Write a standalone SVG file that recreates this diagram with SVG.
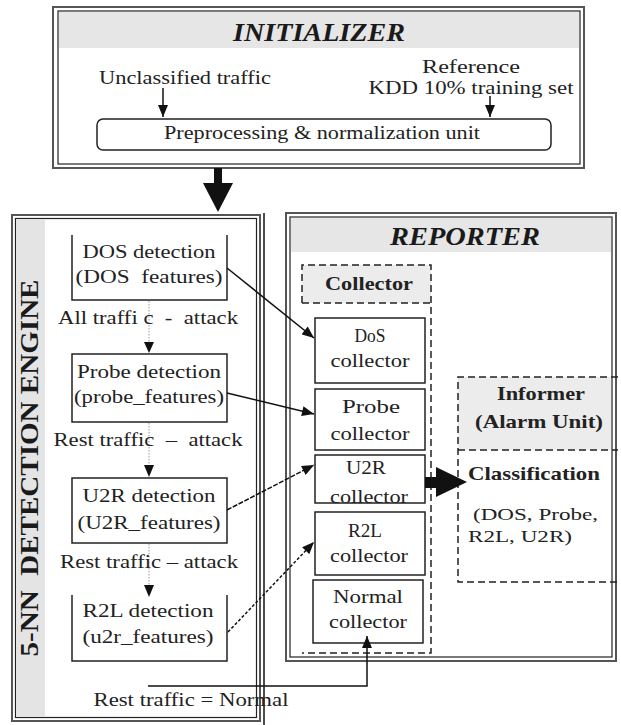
<svg xmlns="http://www.w3.org/2000/svg" width="621" height="725" viewBox="0 0 621 725">
  <style>
    .t { font-family: "Liberation Serif", "Times New Roman", serif; font-size: 19px; fill: #222; }
    .s { font-size: 17px; }
    .b { font-weight: bold; }
    .hd { font-family: "Liberation Serif", "Times New Roman", serif; font-weight: bold; font-style: italic; font-size: 25px; fill: #1a1a1a; }
    .box { fill: #fff; stroke: #222; stroke-width: 1.5; }
    .outer { fill: none; stroke: #555; stroke-width: 2; }
    .inner { fill: none; stroke: #222; stroke-width: 1.2; }
    .band { fill: #e6e6e6; }
    .dash { fill: none; stroke: #222; stroke-width: 1.5; stroke-dasharray: 7 4; }
    .line { fill: none; stroke: #111; stroke-width: 1.5; }
    .dot { fill: none; stroke: #999; stroke-width: 1; stroke-dasharray: 1.5 1.5; }
  </style>
  <defs>
    <marker id="arr" viewBox="0 0 12 10" refX="12" refY="5" markerUnits="userSpaceOnUse" markerWidth="13" markerHeight="10" orient="auto">
      <path d="M0,0 L12,5 L0,10 z" fill="#111"/>
    </marker>
  </defs>

  <rect width="621" height="725" fill="#fff"/>

  <!-- Initializer -->
  <g id="initializer">
    <rect x="53" y="7" width="531" height="161" class="outer" fill="#fff"/>
    <rect x="58" y="11" width="522" height="153" class="inner"/>
    <rect x="59" y="12" width="520" height="36" class="band"/>
    <text class="hd" x="319" y="41" text-anchor="middle" textLength="172" lengthAdjust="spacingAndGlyphs">INITIALIZER</text>
    <text class="t" x="185" y="84" text-anchor="middle" textLength="172" lengthAdjust="spacingAndGlyphs">Unclassified traffic</text>
    <text class="t" x="471" y="73" text-anchor="middle" textLength="98" lengthAdjust="spacingAndGlyphs">Reference</text>
    <text class="t" x="471" y="94" text-anchor="middle" textLength="205" lengthAdjust="spacingAndGlyphs">KDD 10% training set</text>
  </g>

  <g id="preprocessing">
    <rect x="97" y="119" width="454" height="31" rx="6" class="box"/>
    <text class="t" x="322" y="139" text-anchor="middle" textLength="316" lengthAdjust="spacingAndGlyphs">Preprocessing &amp; normalization unit</text>
  </g>

  <!-- Detection engine -->
  <g id="detection-engine">
    <rect x="12" y="215" width="248" height="506" class="outer" fill="#fff"/>
    <rect x="15.5" y="218.5" width="241" height="499" class="inner"/>
    <rect x="16" y="219" width="29" height="498" fill="#e4e4e4"/>
    <text class="hd" x="0" y="0" transform="translate(38,468) rotate(-90)" text-anchor="middle" textLength="377" lengthAdjust="spacingAndGlyphs" style="font-style:normal;white-space:pre">5-NN  DETECTION ENGINE</text>
  </g>

  <g id="dos-detection">
    <path d="M72,235 V300 H227 V235" class="box"/>
    <text class="t" x="149" y="258" text-anchor="middle" textLength="133" lengthAdjust="spacingAndGlyphs">DOS detection</text>
    <text class="t" x="149" y="283" text-anchor="middle" textLength="147" lengthAdjust="spacingAndGlyphs" style="white-space:pre">(DOS  features)</text>
  </g>

  <g id="probe-detection">
    <rect x="72" y="354" width="155" height="68" class="box"/>
    <text class="t" x="149" y="378" text-anchor="middle" textLength="144" lengthAdjust="spacingAndGlyphs">Probe detection</text>
    <text class="t" x="149" y="403" text-anchor="middle" textLength="150" lengthAdjust="spacingAndGlyphs">(probe_features)</text>
  </g>

  <g id="u2r-detection">
    <rect x="72" y="478" width="155" height="65" class="box"/>
    <text class="t" x="149" y="502" text-anchor="middle" textLength="133" lengthAdjust="spacingAndGlyphs">U2R detection</text>
    <text class="t" x="149" y="529" text-anchor="middle" textLength="143" lengthAdjust="spacingAndGlyphs">(U2R_features)</text>
  </g>

  <g id="r2l-detection">
    <path d="M72,595 V661 H227 V595" class="box"/>
    <text class="t" x="148" y="617" text-anchor="middle" textLength="131" lengthAdjust="spacingAndGlyphs">R2L detection</text>
    <text class="t" x="148" y="643" text-anchor="middle" textLength="131" lengthAdjust="spacingAndGlyphs">(u2r_features)</text>
  </g>

  <!-- Reporter -->
  <g id="reporter">
    <rect x="286" y="213" width="330" height="448" class="outer" fill="#fff"/>
    <rect x="290" y="217" width="322" height="440" class="inner"/>
    <rect x="291" y="218" width="320" height="34" class="band"/>
    <text class="hd" x="465" y="245" text-anchor="middle" textLength="150" lengthAdjust="spacingAndGlyphs">REPORTER</text>
  </g>

  <g id="collector">
    <rect x="302" y="265" width="129" height="38" fill="#ececec"/>
    <path d="M302,303 V265 H431 V653 H302" class="dash"/>
    <path d="M302,303 H431" class="dash"/>
    <text class="t b" x="369" y="290" text-anchor="middle" textLength="88" lengthAdjust="spacingAndGlyphs">Collector</text>
  </g>

  <g id="dos-collector">
    <rect x="315" y="318" width="110" height="65" class="box"/>
    <text class="t" x="370" y="342" text-anchor="middle" textLength="31" lengthAdjust="spacingAndGlyphs">DoS</text>
    <text class="t" x="370" y="367" text-anchor="middle" textLength="79" lengthAdjust="spacingAndGlyphs">collector</text>
  </g>

  <g id="probe-collector">
    <rect x="315" y="389" width="110" height="61" class="box"/>
    <text class="t" x="371" y="413" text-anchor="middle" textLength="58" lengthAdjust="spacingAndGlyphs">Probe</text>
    <text class="t" x="370" y="440" text-anchor="middle" textLength="79" lengthAdjust="spacingAndGlyphs">collector</text>
  </g>

  <g id="u2r-collector">
    <rect x="315" y="455" width="110" height="48" class="box"/>
    <text class="t" x="366" y="474" text-anchor="middle" textLength="40" lengthAdjust="spacingAndGlyphs">U2R</text>
    <text class="t" x="369" y="503" text-anchor="middle" textLength="78" lengthAdjust="spacingAndGlyphs">collector</text>
  </g>

  <g id="r2l-collector">
    <rect x="315" y="512" width="110" height="63" class="box"/>
    <text class="t" x="365" y="537" text-anchor="middle" textLength="34" lengthAdjust="spacingAndGlyphs">R2L</text>
    <text class="t" x="369" y="562" text-anchor="middle" textLength="78" lengthAdjust="spacingAndGlyphs">collector</text>
  </g>

  <g id="normal-collector">
    <rect x="313" y="580" width="110" height="63" class="box"/>
    <text class="t" x="368" y="603" text-anchor="middle" textLength="70" lengthAdjust="spacingAndGlyphs">Normal</text>
    <text class="t" x="368" y="628" text-anchor="middle" textLength="78" lengthAdjust="spacingAndGlyphs">collector</text>
  </g>

  <g id="informer">
    <rect x="458" y="377" width="153" height="73" fill="#ececec"/>
    <path d="M618,377 H458 V582 H618" class="dash"/>
    <path d="M458,450 H618" class="dash"/>
    <text class="t b" x="541" y="400" text-anchor="middle" textLength="88" lengthAdjust="spacingAndGlyphs">Informer</text>
    <text class="t b" x="539" y="428" text-anchor="middle" textLength="128" lengthAdjust="spacingAndGlyphs">(Alarm Unit)</text>
    <text class="t b" x="468" y="480" textLength="132" lengthAdjust="spacingAndGlyphs">Classification</text>
    <text class="t s" x="473" y="520" textLength="125" lengthAdjust="spacingAndGlyphs">(DOS, Probe,</text>
    <text class="t s" x="468" y="542" textLength="104" lengthAdjust="spacingAndGlyphs">R2L, U2R)</text>
  </g>

  <!-- Connectors -->
  <g id="connectors">
    <!-- unclassified / reference inputs -->
    <line x1="163" y1="88" x2="163" y2="117" class="line" marker-end="url(#arr)"/>
    <line x1="490" y1="96" x2="490" y2="117" class="line" marker-end="url(#arr)"/>
    <!-- initializer to engine -->
    <rect x="214" y="168" width="8" height="16" fill="#111"/>
    <polygon points="203,183 233,183 218,212" fill="#111"/>
    <!-- chain through the detectors -->
    <line x1="149" y1="301" x2="149" y2="343" class="dot"/>
    <polygon points="144,342 154,342 149,353" fill="#111"/>
    <line x1="149" y1="423" x2="149" y2="466" class="dot"/>
    <polygon points="144,465 154,465 149,477" fill="#111"/>
    <line x1="149" y1="544" x2="149" y2="586" class="dot"/>
    <polygon points="144,585 154,585 149,597" fill="#111"/>
    <!-- detectors to collectors -->
    <line x1="227" y1="268" x2="314" y2="338" class="line" marker-end="url(#arr)"/>
    <line x1="227" y1="393" x2="314" y2="414" class="line" marker-end="url(#arr)"/>
    <line x1="227" y1="510" x2="314" y2="465" class="line" stroke-dasharray="5 1.5" marker-end="url(#arr)"/>
    <line x1="228" y1="632" x2="314" y2="542" class="line" stroke-dasharray="3 2" marker-end="url(#arr)"/>
    <!-- rest traffic to normal collector -->
    <line x1="264" y1="213" x2="264" y2="725" class="line" stroke-width="1.2"/>
    <path d="M148,686 H367 V636" class="line" marker-end="url(#arr)"/>
    <!-- collector to informer -->
    <rect x="425" y="477" width="13" height="11" fill="#111"/>
    <polygon points="436,467 436,497 467,482" fill="#111"/>
    <!-- labels along the chain -->
    <text class="t" x="148" y="324" text-anchor="middle" textLength="180" lengthAdjust="spacingAndGlyphs" style="white-space:pre">All traffi c  -  attack</text>
    <text class="t" x="148" y="446" text-anchor="middle" textLength="189" lengthAdjust="spacingAndGlyphs" style="white-space:pre">Rest traffic  –  attack</text>
    <text class="t" x="149" y="568" text-anchor="middle" textLength="178" lengthAdjust="spacingAndGlyphs">Rest traffic – attack</text>
    <text class="t" x="191" y="706" text-anchor="middle" textLength="195" lengthAdjust="spacingAndGlyphs">Rest traffic = Normal</text>
  </g>
</svg>
